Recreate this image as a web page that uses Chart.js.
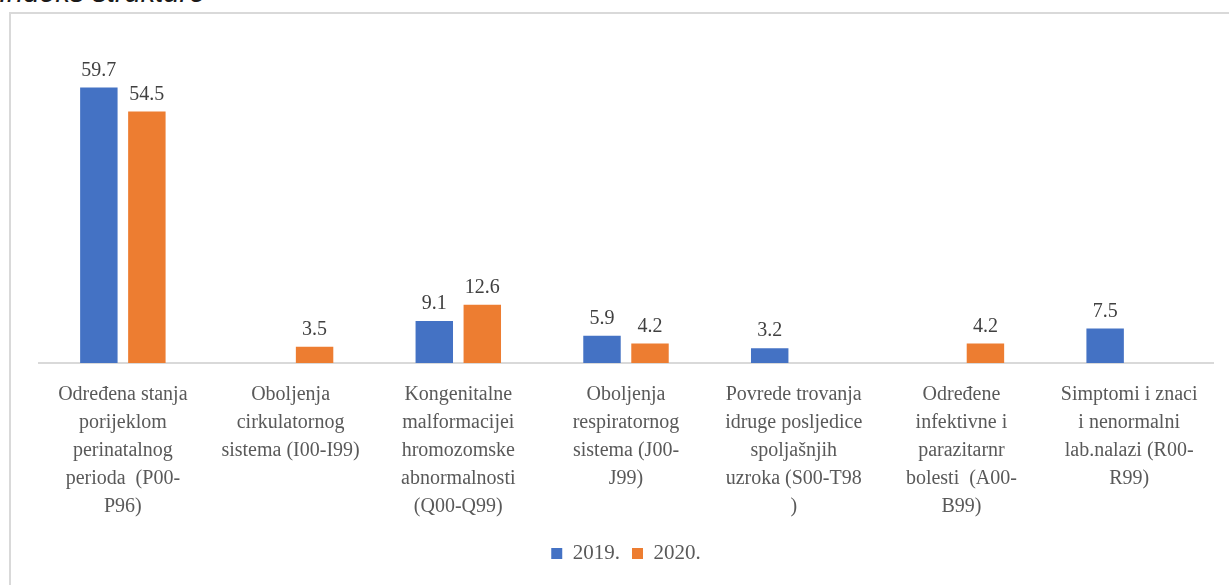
<!DOCTYPE html>
<html>
<head>
<meta charset="utf-8">
<script src="https://cdn.jsdelivr.net/npm/chart.js@4/dist/chart.umd.min.js"></script>
<style>
  html, body { margin: 0; padding: 0; background: #fff; overflow: hidden; }
  #wrap { position: relative; width: 1229px; height: 585px; overflow: hidden; }
  #title { position: absolute; left: -1px; top: -24px; font-family: "Liberation Sans", Arial, sans-serif; font-style: italic; font-size: 29px; line-height: 32px; color: #1a1a1a; white-space: nowrap; }
  #box { position: absolute; left: 9px; top: 12px; width: 1240px; height: 600px; border: 2px solid #d9d9d9; box-sizing: border-box; }
  #c { position: absolute; left: 0; top: 0; }
</style>
</head>
<body>
<div id="wrap">
  <div id="title">Indeks strukture</div>
  <div id="box"></div>
  <canvas id="c" width="1229" height="585"></canvas>
</div>
<script>
const categories = [
  ["Određena stanja", "porijeklom", "perinatalnog", "perioda  (P00-", "P96)"],
  ["Oboljenja", "cirkulatornog", "sistema (I00-I99)"],
  ["Kongenitalne", "malformacijei", "hromozomske", "abnormalnosti", "(Q00-Q99)"],
  ["Oboljenja", "respiratornog", "sistema (J00-", "J99)"],
  ["Povrede trovanja", "idruge posljedice", "spoljašnjih", "uzroka (S00-T98", ")"],
  ["Određene", "infektivne i", "parazitarnr", "bolesti  (A00-", "B99)"],
  ["Simptomi i znaci", "i nenormalni", "lab.nalazi (R00-", "R99)"]
];
const seriesNames = ["2019.", "2020."];
const values2019 = [59.7, null, 9.1, 5.9, 3.2, null, 7.5];
const values2020 = [54.5, 3.5, 12.6, 4.2, null, 4.2, null];

const serif = '"Liberation Serif", "Times New Roman", serif';

const valueLabels = {
  id: 'valueLabels',
  afterDatasetsDraw(chart) {
    const ctx = chart.ctx;
    ctx.save();
    ctx.font = '20px ' + serif;
    ctx.fillStyle = '#404040';
    ctx.textAlign = 'center';
    ctx.textBaseline = 'bottom';
    chart.data.datasets.forEach((ds, i) => {
      const meta = chart.getDatasetMeta(i);
      meta.data.forEach((bar, j) => {
        const v = ds.data[j];
        if (v === null || v === undefined) return;
        ctx.fillText(v.toFixed(1), bar.x, bar.y - 7);
      });
    });
    ctx.restore();
  }
};

new Chart(document.getElementById('c'), {
  type: 'bar',
  data: {
    labels: categories,
    datasets: [
      { label: seriesNames[0], data: values2019, backgroundColor: '#4472C4', borderWidth: 0 },
      { label: seriesNames[1], data: values2020, backgroundColor: '#ED7D31', borderWidth: 0 }
    ]
  },
  options: {
    responsive: false,
    animation: false,
    devicePixelRatio: 1,
    categoryPercentage: 0.5725,
    barPercentage: 0.78,
    layout: { padding: { top: 40, left: 39, right: 16, bottom: 11 } },
    plugins: {
      legend: {
        position: 'bottom',
        labels: {
          boxWidth: 11, boxHeight: 11,
          color: '#595959',
          font: { family: serif, size: 21 },
          padding: 12
        }
      },
      tooltip: { enabled: false }
    },
    scales: {
      x: {
        grid: { display: false },
        border: { display: true, color: '#d9d9d9', width: 2 },
        ticks: {
          color: '#595959',
          font: { family: serif, size: 20, lineHeight: 1.4 },
          padding: 10,
          maxRotation: 0,
          autoSkip: false
        }
      },
      y: {
        display: false,
        min: 0,
        max: 70
      }
    }
  },
  plugins: [valueLabels]
});
</script>
</body>
</html>
